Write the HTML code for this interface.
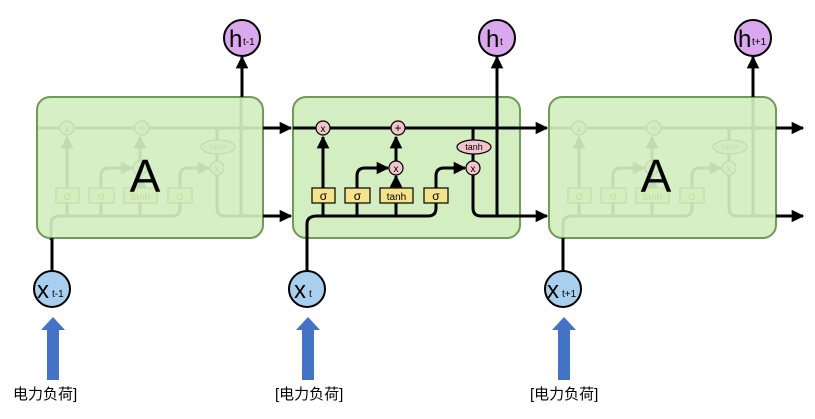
<!DOCTYPE html>
<html><head><meta charset="utf-8"><style>
body{margin:0;background:#fff;}
svg{display:block;}
text{font-family:"Liberation Sans","DejaVu Sans",sans-serif;}
.cn{font-family:"Liberation Sans","Noto Sans CJK SC",sans-serif;font-size:15px;fill:#000;}
</style></head><body>
<svg width="815" height="419" viewBox="0 0 815 419" xmlns="http://www.w3.org/2000/svg">
<defs>
<marker id="ahg" viewBox="0 0 10 10" refX="9" refY="5" markerWidth="4.2" markerHeight="4.2" orient="auto" markerUnits="strokeWidth">
<path d="M0,0 L10,5 L0,10 z" fill="#000"/></marker>
<g id="inner">
  <g stroke="#000" stroke-width="3" fill="none">
    <line x1="0" y1="128" x2="228" y2="128"/>
    <path d="M14,240 L14,224 Q14,216 24,216 L135,216 Q143,216 143,208 L143,203"/>
    <line x1="30" y1="216" x2="30" y2="203"/>
    <line x1="30" y1="188" x2="30" y2="137" marker-end="url(#ahg)"/>
    <line x1="64" y1="216" x2="64" y2="203"/>
    <path d="M64,188 L64,176 Q64,168 72,168 L95,168" marker-end="url(#ahg)"/>
    <line x1="103" y1="216" x2="103" y2="203"/>
    <line x1="103" y1="188" x2="103" y2="176" marker-end="url(#ahg)"/>
    <line x1="103" y1="161" x2="103" y2="137" marker-end="url(#ahg)"/>
    <path d="M143,188 L143,176 Q143,168 151,168 L172,168" marker-end="url(#ahg)"/>
    <line x1="180" y1="128" x2="180" y2="140"/>
    <line x1="180" y1="154" x2="180" y2="161"/>
    <path d="M180,175 L180,208 Q180,216 188,216 L228,216"/>
    <line x1="204" y1="216" x2="204" y2="97"/>
  </g>
  <g stroke="#000" stroke-width="1.2">
    <rect x="19" y="188" width="23" height="15" fill="#f6e48c"/>
    <rect x="52" y="188" width="25" height="15" fill="#f6e48c"/>
    <rect x="87" y="188" width="33" height="15" fill="#f6e48c"/>
    <rect x="131" y="188" width="24" height="15" fill="#f6e48c"/>
    <circle cx="30" cy="128" r="7" fill="#f3c4cc"/>
    <circle cx="105" cy="128" r="7" fill="#f3c4cc"/>
    <circle cx="103" cy="168" r="7" fill="#f3c4cc"/>
    <circle cx="180" cy="168" r="7" fill="#f3c4cc"/>
    <ellipse cx="181" cy="147" rx="17" ry="7" fill="#f3c4cc"/>
  </g>
  <g font-size="12" text-anchor="middle" fill="#000">
    <text x="30.5" y="200">σ</text><text x="64.5" y="200">σ</text>
    <text x="103.5" y="200" font-size="10">tanh</text><text x="143" y="200">σ</text>
    <text x="30" y="132" font-size="10">x</text><text x="105" y="132" font-size="12">+</text>
    <text x="103" y="172" font-size="10">x</text><text x="180" y="172" font-size="10">x</text>
    <text x="181" y="150" font-size="9">tanh</text>
  </g>
</g>
</defs>

<use href="#inner" x="37"/>
<rect x="37" y="97" width="226" height="141" rx="13" fill="#d3eec0" fill-opacity="0.92" stroke="#6f9a58" stroke-width="2"/>
<text x="145" y="192" font-size="46" text-anchor="middle">A</text>
<rect x="293" y="97" width="227" height="141" rx="13" fill="#d3eec0" stroke="#6f9a58" stroke-width="2"/>
<use href="#inner" x="293"/>
<use href="#inner" x="549"/>
<rect x="549" y="97" width="227" height="141" rx="13" fill="#d3eec0" fill-opacity="0.92" stroke="#6f9a58" stroke-width="2"/>
<text x="656" y="192" font-size="46" text-anchor="middle">A</text>

<g stroke="#000" stroke-width="3" fill="none">
  <line x1="263" y1="128" x2="291" y2="128" marker-end="url(#ahg)"/>
  <line x1="263" y1="216" x2="291" y2="216" marker-end="url(#ahg)"/>
  <line x1="520" y1="128" x2="547" y2="128" marker-end="url(#ahg)"/>
  <line x1="520" y1="216" x2="547" y2="216" marker-end="url(#ahg)"/>
  <line x1="776" y1="128" x2="803" y2="128" marker-end="url(#ahg)"/>
  <line x1="776" y1="216" x2="803" y2="216" marker-end="url(#ahg)"/>
  <line x1="242" y1="97" x2="242" y2="57" marker-end="url(#ahg)"/>
  <line x1="497" y1="97" x2="497" y2="57" marker-end="url(#ahg)"/>
  <line x1="753" y1="97" x2="753" y2="57" marker-end="url(#ahg)"/>
  <line x1="52" y1="271" x2="52" y2="238"/>
  <line x1="307" y1="271" x2="307" y2="238"/>
  <line x1="563" y1="271" x2="563" y2="238"/>
</g>

<g stroke="#000" stroke-width="2" fill="#dba8ee">
  <circle cx="242" cy="38" r="18"/><circle cx="497" cy="38" r="18"/><circle cx="753" cy="38" r="18"/>
</g>
<g fill="#000">
  <text x="229" y="47" font-size="24">h</text><text x="243" y="45" font-size="10">t-1</text>
  <text x="486" y="47" font-size="24">h</text><text x="500" y="45" font-size="10">t</text>
  <text x="738" y="47" font-size="24">h</text><text x="752" y="45" font-size="10">t+1</text>
</g>
<g stroke="#000" stroke-width="2" fill="#a8d0ee">
  <circle cx="52" cy="289" r="18"/><circle cx="307" cy="289" r="18"/><circle cx="563" cy="289" r="18"/>
</g>
<g fill="#000">
  <text x="37" y="298" font-size="24">x</text><text x="52" y="297" font-size="10">t-1</text>
  <text x="294" y="298" font-size="24">x</text><text x="309" y="297" font-size="10">t</text>
  <text x="547" y="298" font-size="24">x</text><text x="562" y="297" font-size="10">t+1</text>
</g>
<g fill="#4472c4">
  <path d="M47,380 L47,330 L41,330 L53,317 L65,330 L59,330 L59,380 Z"/>
  <path d="M302,380 L302,330 L296,330 L308,317 L320,330 L314,330 L314,380 Z"/>
  <path d="M558,380 L558,330 L552,330 L564,317 L576,330 L570,330 L570,380 Z"/>
</g>
<text class="cn" x="13" y="399">电力负荷]</text>
<text class="cn" x="275" y="399">[电力负荷]</text>
<text class="cn" x="530" y="399">[电力负荷]</text>
</svg>
</body></html>
